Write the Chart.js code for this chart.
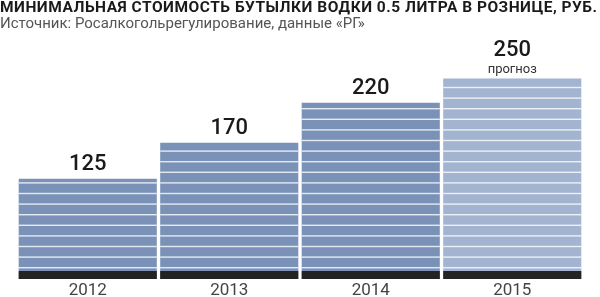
<!DOCTYPE html>
<html>
<head>
<meta charset="utf-8">
<script src="https://cdn.jsdelivr.net/npm/chart.js@4"></script>
<style>
  html, body { margin: 0; padding: 0; background: #fff; }
  #wrap { position: relative; width: 600px; height: 297px; overflow: hidden; }
  #title { position: absolute; left: 0; top: -2px; font: bold 15.5px Roboto, sans-serif; letter-spacing: 0.5px; color: #1a1a1a; white-space: nowrap; }
  #source { position: absolute; left: 0; top: 14px; font: 15px Roboto, sans-serif; color: #555; white-space: nowrap; }
  canvas { position: absolute; left: 0; top: 0; }
</style>
</head>
<body>
<div id="wrap">
  <canvas id="chart" width="600" height="303"></canvas>
  <div id="title">МИНИМАЛЬНАЯ СТОИМОСТЬ БУТЫЛКИ ВОДКИ 0.5 ЛИТРА В РОЗНИЦЕ, РУБ.</div>
  <div id="source">Источник: Росалкогольрегулирование, данные «РГ»</div>
</div>
<script>
// ==================== DATA ====================
const years = ['2012', '2013', '2014', '2015'];
const prices = [125, 170, 220, 250];
const notes = ['', '', '', 'прогноз'];
const barColors = ['#7b92b8', '#7b92b8', '#7b92b8', '#a2b4d0'];

// stripes + dark base band + value labels on each bar
const barDecor = {
  id: 'barDecor',
  afterDatasetsDraw(chart) {
    const ctx = chart.ctx;
    const meta = chart.getDatasetMeta(0);
    meta.data.forEach((bar, i) => {
      const left = bar.x - bar.width / 2;
      const w = bar.width;
      const base = bar.base;
      ctx.save();
      // white stripes
      ctx.fillStyle = 'rgba(255,255,255,0.8)';
      for (let y = base - 12; y > bar.y + 3; y -= 10.6) {
        ctx.fillRect(left, y, w, 1.4);
      }
      // dark band at the bottom
      ctx.fillStyle = '#232323';
      ctx.fillRect(left, base - 8, w, 8);

      // value label
      ctx.fillStyle = '#1a1a1a';
      ctx.textAlign = 'center';
      ctx.textBaseline = 'middle';
      ctx.font = '500 22px Roboto, sans-serif';
      if (notes[i]) {
        ctx.fillText(prices[i], bar.x, bar.y - 28);
        ctx.fillStyle = '#333';
        ctx.font = '13px Roboto, sans-serif';
        ctx.fillText(notes[i], bar.x, bar.y - 9);
      } else {
        ctx.fillText(prices[i], bar.x, bar.y - 14);
      }
      ctx.restore();
    });
  },
};

new Chart(document.getElementById('chart'), {
  type: 'bar',
  data: {
    labels: years,
    datasets: [
      {
        data: prices,
        backgroundColor: barColors,
        borderWidth: 0,
        categoryPercentage: 1,
        barPercentage: 0.976,
      },
    ],
  },
  options: {
    responsive: false,
    animation: false,
    layout: { padding: { left: 17, right: 17, top: 38.5, bottom: 0 } },
    plugins: { legend: { display: false }, tooltip: { enabled: false } },
    scales: {
      y: { display: false, min: 0, max: 300 },
      x: {
        grid: { display: false, drawTicks: false },
        border: { display: false },
        ticks: { color: '#444', padding: 3.5, font: { family: 'Roboto', size: 17, lineHeight: 1 } },
      },
    },
  },
  plugins: [barDecor],
});
</script>
</body>
</html>
